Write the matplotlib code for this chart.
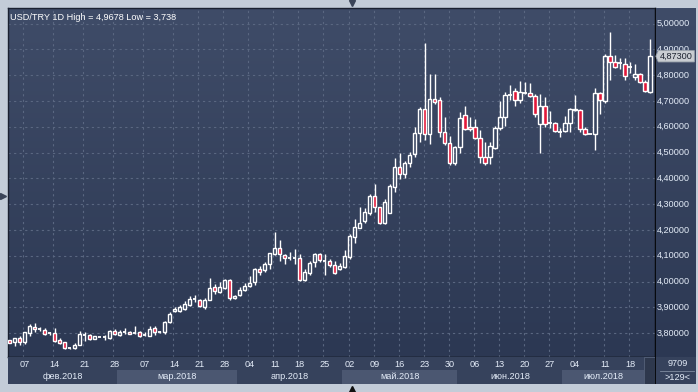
import numpy as np
import pandas as pd
import matplotlib
matplotlib.use("Agg")
import matplotlib.pyplot as plt
from matplotlib.colors import LinearSegmentedColormap
from matplotlib.patches import Polygon, Rectangle

plt.rcParams['font.family'] = ['Liberation Sans', 'DejaVu Sans']

# ---------------- data ----------------
title = "USD/TRY 1D High = 4,9678 Low = 3,738"
extra_sundays = ['2018-02-04', '2018-02-11', '2018-02-18', '2018-02-25',
                 '2018-03-04', '2018-03-11', '2018-07-08']
dates = pd.bdate_range('2018-02-05', '2018-07-24').union(pd.to_datetime(extra_sundays))

opens = [3.772, 3.764, 3.780, 3.764, 3.800, 3.825, 3.816, 3.813, 3.800, 3.800,
         3.774, 3.764, 3.742, 3.742, 3.755, 3.794, 3.791, 3.778, 3.784, 3.783,
         3.781, 3.809, 3.794, 3.804, 3.805, 3.800, 3.805, 3.791, 3.788, 3.819,
         3.803, 3.803, 3.843, 3.886, 3.886, 3.893, 3.910, 3.933, 3.930, 3.900,
         3.930, 3.978, 3.960, 3.975, 4.004, 3.936, 3.949, 3.969, 3.984, 3.997,
         4.047, 4.043, 4.066, 4.108, 4.131, 4.103, 4.092, 4.090, 4.092, 4.004,
         4.034, 4.077, 4.105, 4.079, 4.079, 4.064, 4.047, 4.056, 4.095, 4.173,
         4.209, 4.236, 4.267, 4.332, 4.288, 4.228, 4.267, 4.368, 4.445, 4.417,
         4.458, 4.493, 4.574, 4.669, 4.571, 4.706, 4.704, 4.581, 4.536, 4.458,
         4.520, 4.646, 4.598, 4.598, 4.555, 4.481, 4.481, 4.516, 4.594, 4.636,
         4.722, 4.738, 4.704, 4.732, 4.729, 4.719, 4.609, 4.680, 4.613, 4.616,
         4.581, 4.585, 4.613, 4.665, 4.665, 4.590, 4.571, 4.572, 4.729, 4.701,
         4.874, 4.850, 4.848, 4.843, 4.833, 4.791, 4.804, 4.775, 4.736]
highs = [3.775, 3.782, 3.787, 3.805, 3.835, 3.840, 3.822, 3.819, 3.806, 3.820,
         3.780, 3.767, 3.744, 3.761, 3.810, 3.806, 3.795, 3.790, 3.785, 3.792,
         3.812, 3.815, 3.812, 3.819, 3.807, 3.826, 3.809, 3.806, 3.826, 3.826,
         3.809, 3.848, 3.880, 3.900, 3.908, 3.923, 3.943, 3.949, 3.934, 3.935,
         4.014, 3.990, 4.000, 4.010, 4.008, 3.949, 3.978, 3.995, 4.023, 4.053,
         4.060, 4.075, 4.112, 4.192, 4.160, 4.108, 4.116, 4.125, 4.105, 4.047,
         4.079, 4.112, 4.112, 4.108, 4.086, 4.079, 4.073, 4.121, 4.183, 4.242,
         4.290, 4.284, 4.339, 4.378, 4.290, 4.319, 4.378, 4.477, 4.500, 4.468,
         4.503, 4.600, 4.678, 4.923, 4.803, 4.803, 4.717, 4.636, 4.564, 4.525,
         4.658, 4.680, 4.636, 4.629, 4.587, 4.542, 4.542, 4.603, 4.701, 4.736,
         4.762, 4.749, 4.777, 4.775, 4.771, 4.727, 4.727, 4.714, 4.662, 4.620,
         4.594, 4.642, 4.671, 4.723, 4.667, 4.598, 4.572, 4.749, 4.736, 4.882,
         4.9678, 4.878, 4.865, 4.865, 4.852, 4.843, 4.810, 4.781, 4.939]
lows = [3.760, 3.751, 3.755, 3.758, 3.787, 3.806, 3.809, 3.791, 3.791, 3.767,
        3.757, 3.738, 3.740, 3.738, 3.753, 3.771, 3.775, 3.776, 3.783, 3.775,
        3.779, 3.791, 3.788, 3.797, 3.796, 3.795, 3.783, 3.787, 3.788, 3.794,
        3.800, 3.795, 3.838, 3.880, 3.882, 3.890, 3.905, 3.921, 3.900, 3.894,
        3.928, 3.952, 3.956, 3.972, 3.930, 3.934, 3.945, 3.965, 3.978, 3.988,
        4.027, 4.038, 4.050, 4.103, 4.079, 4.069, 4.083, 4.066, 4.001, 4.001,
        4.025, 4.056, 4.077, 4.025, 4.056, 4.030, 4.043, 4.051, 4.086, 4.151,
        4.209, 4.226, 4.258, 4.271, 4.222, 4.222, 4.264, 4.348, 4.396, 4.400,
        4.445, 4.484, 4.542, 4.549, 4.533, 4.688, 4.559, 4.529, 4.452, 4.452,
        4.500, 4.587, 4.585, 4.551, 4.458, 4.452, 4.456, 4.512, 4.587, 4.603,
        4.704, 4.680, 4.691, 4.728, 4.714, 4.639, 4.500, 4.600, 4.594, 4.581,
        4.559, 4.581, 4.581, 4.662, 4.581, 4.568, 4.570, 4.510, 4.649, 4.693,
        4.781, 4.826, 4.822, 4.781, 4.807, 4.781, 4.771, 4.735, 4.729]
closes = [3.763, 3.780, 3.764, 3.803, 3.826, 3.815, 3.815, 3.796, 3.800, 3.771,
          3.761, 3.742, 3.742, 3.755, 3.796, 3.793, 3.778, 3.787, 3.784, 3.783,
          3.809, 3.796, 3.806, 3.804, 3.797, 3.800, 3.787, 3.791, 3.816, 3.806,
          3.803, 3.843, 3.875, 3.895, 3.900, 3.912, 3.933, 3.932, 3.905, 3.930,
          3.973, 3.962, 3.978, 4.004, 3.936, 3.945, 3.969, 3.984, 3.995, 4.047,
          4.038, 4.066, 4.109, 4.131, 4.105, 4.092, 4.092, 4.090, 4.004, 4.038,
          4.073, 4.105, 4.082, 4.079, 4.064, 4.034, 4.060, 4.099, 4.177, 4.212,
          4.225, 4.271, 4.332, 4.288, 4.228, 4.310, 4.370, 4.445, 4.417, 4.461,
          4.490, 4.574, 4.669, 4.571, 4.706, 4.697, 4.581, 4.536, 4.458, 4.520,
          4.633, 4.590, 4.590, 4.555, 4.481, 4.458, 4.525, 4.594, 4.636, 4.723,
          4.722, 4.704, 4.736, 4.732, 4.719, 4.648, 4.680, 4.609, 4.613, 4.583,
          4.581, 4.613, 4.667, 4.668, 4.590, 4.571, 4.571, 4.729, 4.704, 4.874,
          4.850, 4.833, 4.848, 4.797, 4.833, 4.804, 4.775, 4.739, 4.873]

price_ticks = [3.8, 3.9, 4.0, 4.1, 4.2, 4.3, 4.4, 4.5, 4.6, 4.7, 4.8, 4.9, 5.0]
month_names = {1: 'янв', 2: 'фев', 3: 'мар', 4: 'апр', 5: 'май', 6: 'июн', 7: 'июл'}
footer_top = "9709"
footer_bottom = ">129<"

# ---------------- styling ----------------
W, H = 698, 392
FRAME = '#c3ccd8'
BG_TOP = '#3f4c68'
BG_BOT = '#2c3853'
GRID = '#5a6781'
RED = '#e3183a'
TXT = '#e4ecf8'
AXBAR = '#36425c'
AXBAND = '#4b5771'

def fx(px):
    return px / W

def fy(py):
    return 1 - py / H

n = len(closes)
x = np.arange(n)
xlim = (-0.3, n + 0.0)
ylim = (3.7074, 5.0601)

fig = plt.figure(figsize=(W / 100, H / 100), dpi=100)
fig.patch.set_facecolor(FRAME)

grad = LinearSegmentedColormap.from_list('bg', [BG_BOT, BG_TOP])
gimg = np.linspace(0, 1, 256).reshape(-1, 1)

# main plot
ax = fig.add_axes([fx(8), fy(357), fx(647), 349 / H])
ax.imshow(gimg, extent=[0, 1, 0, 1], transform=ax.transAxes, aspect='auto',
          cmap=grad, origin='lower', zorder=0)
ax.set_xlim(*xlim)
ax.set_ylim(*ylim)
ax.set_xticks([])
ax.set_yticks([])
for s in ax.spines.values():
    s.set_color('#1a2030')
    s.set_linewidth(1.0)
ax.spines['bottom'].set_color('#000000')
ax.spines['right'].set_color('#000000')

wed_idx = [i for i, d in enumerate(dates) if d.weekday() == 2]
for v in price_ticks:
    ax.axhline(v, color=GRID, lw=0.8, ls=(0, (2, 3)), zorder=1)
for i in wed_idx:
    ax.axvline(i - 0.25, color=GRID, lw=0.8, ls=(0, (2, 3)), zorder=1)

bw = 0.66
for i in range(n):
    o, h, l, c = opens[i], highs[i], lows[i], closes[i]
    top, bot = max(o, c), min(o, c)
    ax.vlines(x[i], top, h, color='white', lw=1.0, zorder=3)
    ax.vlines(x[i], l, bot, color='white', lw=1.0, zorder=3)
    if top - bot < 0.0015:
        ax.hlines((top + bot) / 2, x[i] - bw / 2, x[i] + bw / 2, color='white',
                  lw=1.3, zorder=4)
    else:
        fc = RED if c < o else 'none'
        ax.bar(x[i], top - bot, bottom=bot, width=bw, facecolor=fc,
               edgecolor='white', linewidth=1.0, zorder=4)

ax.text(0.003, 0.985, title, transform=ax.transAxes, ha='left',
        va='top', color='white', fontsize=6.6, zorder=6)

# right price axis
axr = fig.add_axes([fx(655), fy(357), fx(41), 349 / H])
axr.imshow(gimg, extent=[0, 1, 0, 1], transform=axr.transAxes, aspect='auto',
           cmap=grad, origin='lower', zorder=0)
axr.set_ylim(*ylim)
axr.set_xlim(0, 1)
axr.set_xticks([])
axr.set_yticks([])
for s in axr.spines.values():
    s.set_visible(False)
axr.axvline(0, color='black', lw=1.2)
last = closes[-1]
for v in price_ticks:
    t = axr.text(0.05, v, f"{v:.5f}".replace('.', ','), ha='left', va='center',
                 color=TXT, fontsize=6.6, zorder=2)
tag = Polygon([[0.02, last], [0.08, last + 0.022], [0.96, last + 0.022],
               [0.96, last - 0.022], [0.08, last - 0.022]], closed=True,
              facecolor='#c9cdd2', edgecolor='#9aa2ac', lw=0.6, zorder=4,
              transform=axr.transData)
axr.add_patch(tag)
axr.text(0.52, last, f"{last:.5f}".replace('.', ','), ha='center', va='center',
         color='#1c2230', fontsize=6.6, zorder=5)

# bottom date axis
axb = fig.add_axes([fx(8), fy(384), fx(647), 27 / H])
axb.set_facecolor(AXBAR)
axb.set_xlim(*xlim)
axb.set_ylim(0, 1)
axb.set_xticks([])
axb.set_yticks([])
for s in axb.spines.values():
    s.set_visible(False)
months = sorted(set(d.month for d in dates))
scroll_start = 0.983  # start of the dark scroller block, in axes fraction
x_scroll = xlim[0] + scroll_start * (xlim[1] - xlim[0])
for m in months:
    idx = [i for i, d in enumerate(dates) if d.month == m]
    a = max(idx[0] - 0.5, xlim[0])
    b = min(idx[-1] + 0.5, x_scroll)
    if m % 2 == 1:
        axb.axvspan(a, b, ymin=0, ymax=0.52, color=AXBAND, lw=0, zorder=1)
    axb.text((a + b) / 2, 0.27, f"{month_names[m]}.{dates[idx[0]].year}",
             ha='center', va='center', color=TXT, fontsize=6.6, zorder=3)
for i in wed_idx:
    axb.text(i, 0.74, dates[i].strftime('%d'), ha='center', va='center',
             color=TXT, fontsize=6.6, zorder=3)
axb.add_patch(Rectangle((scroll_start, 0), 1 - scroll_start, 1,
                        transform=axb.transAxes, facecolor='#2e384d',
                        edgecolor='#56627a', lw=0.6, zorder=2))

# bottom-right info box
axi = fig.add_axes([fx(655), fy(384), fx(41), 27 / H])
axi.set_facecolor(AXBAR)
axi.set_xlim(0, 1)
axi.set_ylim(0, 1)
axi.set_xticks([])
axi.set_yticks([])
for s in axi.spines.values():
    s.set_visible(False)
axi.axvline(0, color='black', lw=1.2)
axi.plot([0.12, 0.95], [0.5, 0.5], color='#7f8ba0', lw=0.6)
axi.text(0.55, 0.76, footer_top, ha='center', va='center', color=TXT, fontsize=6.6)
axi.text(0.55, 0.25, footer_bottom, ha='center', va='center', color=TXT, fontsize=6.6)

# small navigation triangles
axo = fig.add_axes([0, 0, 1, 1], facecolor='none')
axo.set_xlim(0, W)
axo.set_ylim(H, 0)
axo.axis('off')
axo.plot([352], [3], marker='v', color='#3a4458', markersize=4.5)
axo.plot([3], [196], marker='>', color='#3a4458', markersize=4.5)
axo.plot([352], [389], marker='^', color='#111111', markersize=4.5)

fig.savefig('out.png', dpi=100, facecolor=fig.get_facecolor())
